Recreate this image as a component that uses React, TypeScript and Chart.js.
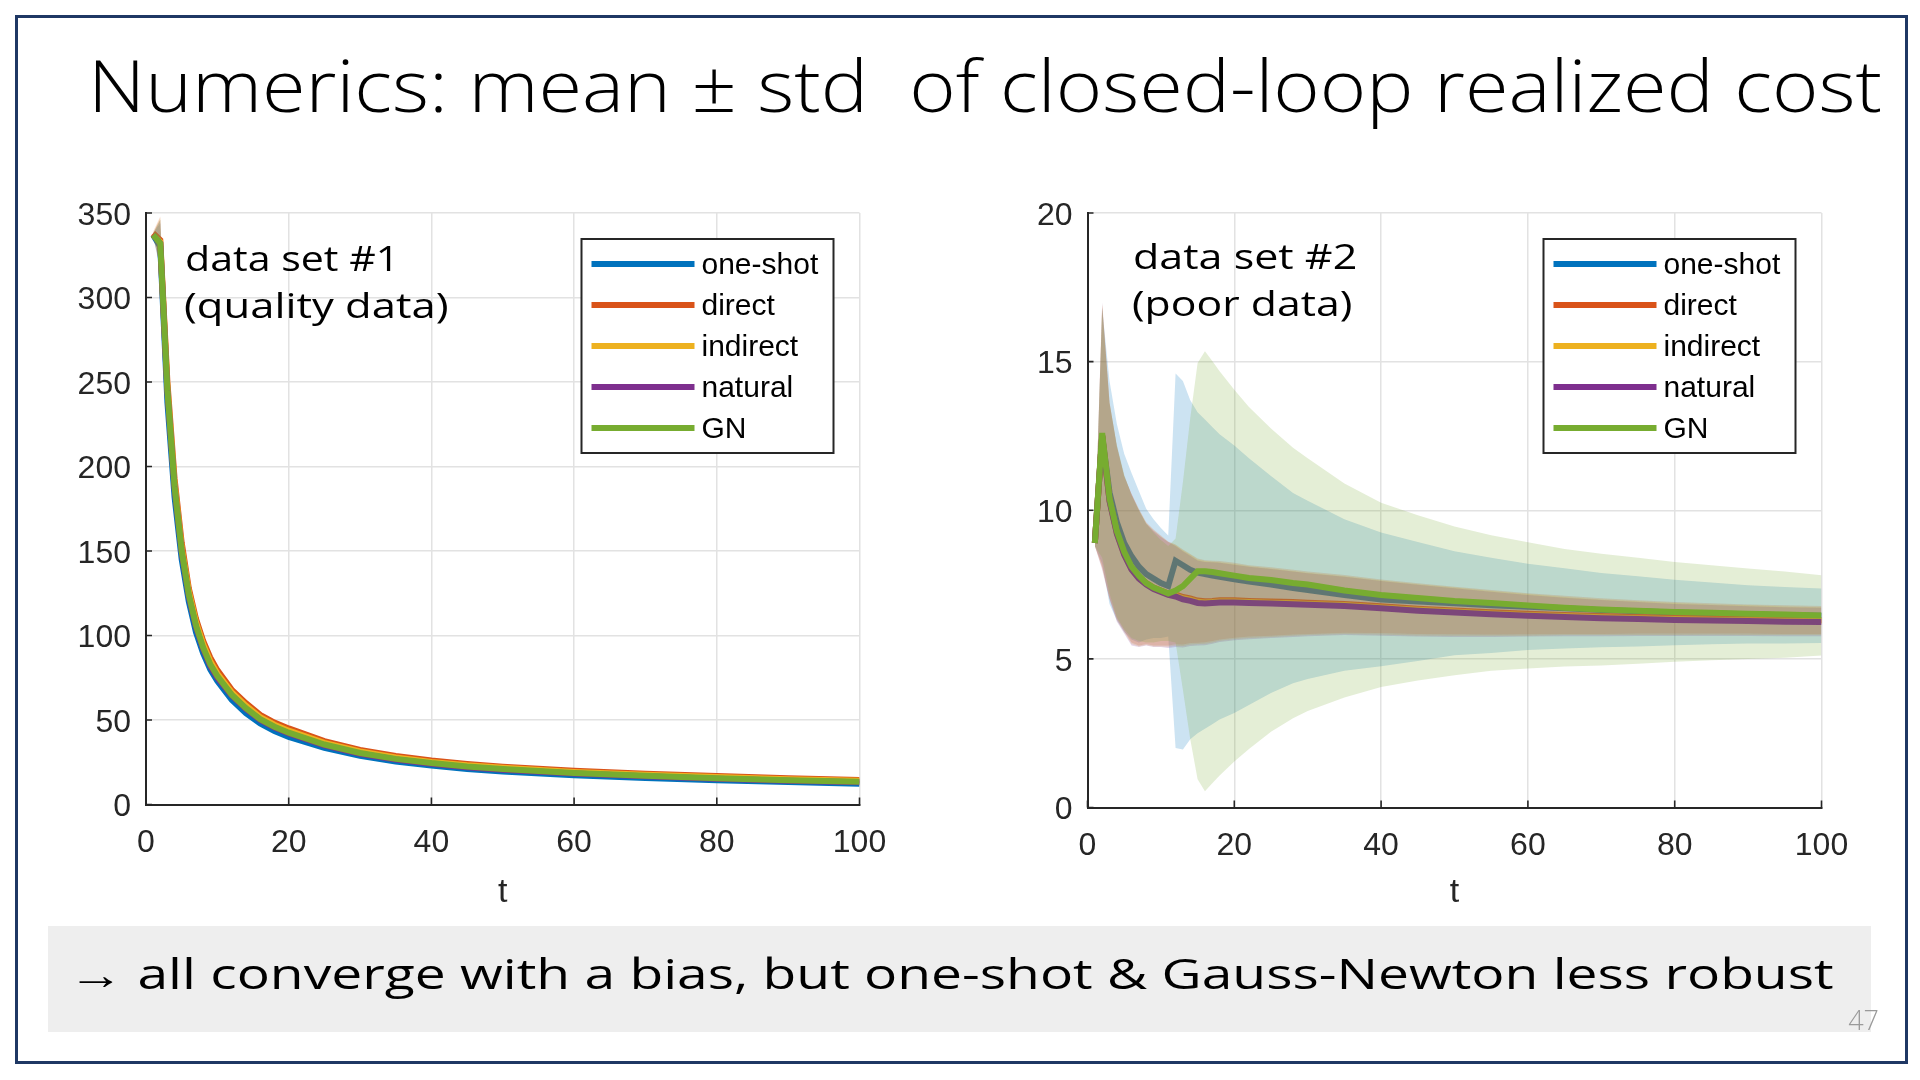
import React, { useEffect, useLayoutEffect, useRef, useState } from 'react';
import { Chart, registerables } from 'chart.js';

Chart.register(...registerables);

// ---------- data ----------
const SERIES_NAMES = ['one-shot', 'direct', 'indirect', 'natural', 'GN'];
const SERIES_COLORS = ['#0072BD', '#D95319', '#EDB120', '#7E2F8E', '#77AC30'];
const BAND_COLORS = [
  'rgba(0,114,189,0.2)',
  'rgba(217,83,25,0.2)',
  'rgba(237,177,32,0.2)',
  'rgba(126,47,142,0.2)',
  'rgba(119,172,48,0.2)',
];

const X_TICKS = [0, 20, 40, 60, 80, 100];
const Y_TICKS_LEFT = [0, 50, 100, 150, 200, 250, 300, 350];
const Y_TICKS_RIGHT = [0, 5, 10, 15, 20];

// data set #1 (quality data)
const T_LEFT = [1, 2, 3, 4, 5, 6, 7, 8, 9, 10, 12, 14, 16, 18, 20, 25, 30, 35, 40, 45, 50, 60, 70, 80, 90, 100];
const L_ONESHOT = [337, 330, 238, 182, 145, 120, 102, 89.5, 80, 73, 62, 54, 48, 43.5, 40, 33.5, 28.8, 25.5, 23, 21, 19.5, 17.3, 15.7, 14.4, 13.3, 12.3];
const L_DIRECT = [338, 334, 250, 193, 155, 128, 110, 97, 87, 79.5, 68, 60, 53, 48.5, 45, 37.5, 32.3, 28.7, 26, 24, 22.4, 20, 18.2, 16.8, 15.5, 14.5];
const L_INDIRECT = [337, 333, 247, 190, 152, 126, 108, 95, 85, 77.5, 66.5, 58.5, 51.7, 47.2, 43.7, 36.5, 31.4, 27.8, 25.2, 23.2, 21.7, 19.3, 17.6, 16.2, 15, 14];
const L_NATURAL = [337, 332, 244, 187, 149, 123, 105, 92, 82, 75, 64.5, 56.5, 50, 45.5, 42, 35, 30, 26.6, 24.1, 22.1, 20.6, 18.3, 16.7, 15.3, 14.1, 13.1];
const L_GN = [337, 332, 245, 188, 150, 124, 106, 93, 83, 76, 65, 57, 50.5, 46, 42.5, 35.5, 30.5, 27, 24.5, 22.5, 21, 18.7, 17, 15.6, 14.4, 13.4];
const L_STD = [1, 14, 4, 3, 2.5, 2, 1.8, 1.6, 1.5, 1.4, 1.3, 1.2, 1.1, 1, 1, 0.9, 0.8, 0.8, 0.7, 0.7, 0.6, 0.6, 0.5, 0.5, 0.5, 0.5];

// data set #2 (poor data)
const T_RIGHT = [1, 2, 3, 4, 5, 6, 7, 8, 9, 10, 11, 12, 13, 14, 15, 16, 17, 18, 20, 22, 25, 28, 30, 35, 40, 45, 50, 55, 60, 65, 70, 75, 80, 85, 90, 95, 100];
const R_ONESHOT = [8.9, 12.5, 10.6, 9.6, 8.9, 8.45, 8.1, 7.85, 7.7, 7.55, 7.45, 8.3, 8.15, 8.0, 7.9, 7.85, 7.8, 7.76, 7.68, 7.6, 7.5, 7.38, 7.32, 7.15, 7.0, 6.93, 6.87, 6.8, 6.75, 6.7, 6.64, 6.6, 6.56, 6.53, 6.5, 6.47, 6.45];
const R_DIRECT = [8.9, 12.5, 10.35, 9.25, 8.55, 8.05, 7.75, 7.55, 7.4, 7.3, 7.2, 7.17, 7.08, 7.03, 6.96, 6.94, 6.95, 6.97, 6.97, 6.95, 6.93, 6.91, 6.89, 6.85, 6.77, 6.69, 6.63, 6.57, 6.52, 6.48, 6.44, 6.41, 6.38, 6.36, 6.34, 6.32, 6.31];
const R_INDIRECT = [8.9, 12.5, 10.32, 9.22, 8.52, 8.02, 7.72, 7.52, 7.37, 7.27, 7.17, 7.13, 7.04, 6.99, 6.92, 6.9, 6.91, 6.93, 6.93, 6.91, 6.89, 6.87, 6.85, 6.81, 6.73, 6.65, 6.59, 6.53, 6.48, 6.44, 6.4, 6.37, 6.34, 6.32, 6.3, 6.28, 6.27];
const R_NATURAL = [8.9, 12.5, 10.3, 9.2, 8.5, 8.0, 7.7, 7.5, 7.35, 7.25, 7.15, 7.1, 7.0, 6.95, 6.88, 6.86, 6.88, 6.9, 6.9, 6.88, 6.86, 6.84, 6.82, 6.78, 6.7, 6.62, 6.56, 6.5, 6.45, 6.41, 6.37, 6.34, 6.31, 6.29, 6.27, 6.25, 6.24];
const R_GN = [8.9, 12.6, 10.4, 9.3, 8.6, 8.1, 7.8, 7.55, 7.4, 7.3, 7.2, 7.3, 7.45, 7.7, 7.95, 7.95, 7.92, 7.88, 7.8, 7.72, 7.65, 7.55, 7.5, 7.3, 7.15, 7.05, 6.95, 6.88, 6.8, 6.72, 6.66, 6.62, 6.58, 6.55, 6.52, 6.49, 6.46];

const R_STD_ONESHOT = [0.1, 4.3, 3.75, 3.3, 3.0, 2.8, 2.55, 2.2, 2.0, 1.85, 1.7, 6.3, 6.2, 5.7, 5.4, 5.2, 5.0, 4.8, 4.5, 4.15, 3.65, 3.2, 3.0, 2.55, 2.25, 2.0, 1.75, 1.6, 1.45, 1.35, 1.25, 1.18, 1.1, 1.04, 0.98, 0.95, 0.92];
const R_STD_DIRECT = [0.1, 4.4, 3.3, 2.9, 2.6, 2.5, 2.3, 2.05, 1.95, 1.85, 1.75, 1.68, 1.6, 1.5, 1.42, 1.38, 1.35, 1.32, 1.26, 1.2, 1.15, 1.09, 1.05, 0.97, 0.9, 0.85, 0.8, 0.75, 0.69, 0.64, 0.6, 0.56, 0.53, 0.51, 0.49, 0.48, 0.47];
const R_STD_INDIRECT = [0.1, 4.45, 3.3, 2.92, 2.62, 2.52, 2.3, 2.05, 1.95, 1.85, 1.76, 1.69, 1.61, 1.51, 1.42, 1.39, 1.36, 1.32, 1.26, 1.21, 1.15, 1.09, 1.05, 0.97, 0.91, 0.86, 0.81, 0.75, 0.7, 0.64, 0.6, 0.57, 0.54, 0.51, 0.5, 0.48, 0.47];
const R_STD_NATURAL = [0.1, 4.5, 3.3, 2.95, 2.65, 2.55, 2.3, 2.05, 1.95, 1.85, 1.78, 1.7, 1.62, 1.52, 1.43, 1.4, 1.37, 1.33, 1.27, 1.22, 1.16, 1.1, 1.06, 0.98, 0.92, 0.87, 0.82, 0.76, 0.7, 0.65, 0.61, 0.57, 0.54, 0.52, 0.5, 0.49, 0.48];
const R_STD_GN = [0.1, 4.2, 3.2, 2.9, 2.6, 2.4, 2.2, 2.0, 1.85, 1.7, 1.6, 1.75, 3.5, 5.4, 7.0, 7.4, 7.1, 6.8, 6.25, 5.75, 5.1, 4.55, 4.25, 3.6, 3.1, 2.78, 2.5, 2.28, 2.12, 1.98, 1.88, 1.78, 1.68, 1.6, 1.52, 1.45, 1.35];

// ---------- helpers ----------
const AXIS_FONT = '"Liberation Sans", Arial, Helvetica, sans-serif';
const SLIDE_FONT = '"Open Sans", "Noto Sans", sans-serif';
const AXIS_COLOR = '#262626';

function buildDatasets(T: number[], means: number[][], stds: number[][]) {
  const ds: any[] = [];
  means.forEach((m, i) => {
    const isGN = i === means.length - 1;
    const base = 100 - i * 10;
    const lineOrder = isGN ? base - 8 : base;
    const bandOrder = isGN ? base : base - 2;
    ds.push({
      label: SERIES_NAMES[i] + ' +std',
      data: T.map((t, k) => ({ x: t, y: m[k] + stds[i][k] })),
      borderColor: 'rgba(0,0,0,0)',
      borderWidth: 0,
      pointRadius: 0,
      fill: false,
      order: bandOrder + 1,
    });
    ds.push({
      label: SERIES_NAMES[i] + ' -std',
      data: T.map((t, k) => ({ x: t, y: m[k] - stds[i][k] })),
      borderColor: 'rgba(0,0,0,0)',
      borderWidth: 0,
      pointRadius: 0,
      fill: '-1',
      backgroundColor: BAND_COLORS[i],
      order: bandOrder,
    });
    ds.push({
      label: SERIES_NAMES[i],
      data: T.map((t, k) => ({ x: t, y: m[k] })),
      borderColor: SERIES_COLORS[i],
      backgroundColor: SERIES_COLORS[i],
      borderWidth: 6,
      pointRadius: 0,
      fill: false,
      tension: 0,
      order: lineOrder,
    });
  });
  return ds;
}

const innerTicksPlugin = {
  id: 'innerTicks',
  afterDraw(chart: any) {
    const { ctx, chartArea, scales } = chart;
    ctx.save();
    ctx.strokeStyle = AXIS_COLOR;
    ctx.lineWidth = 1.6;
    ctx.beginPath();
    scales.x.ticks.forEach((t: any) => {
      const px = scales.x.getPixelForValue(t.value);
      ctx.moveTo(px, chartArea.bottom);
      ctx.lineTo(px, chartArea.bottom - 7);
    });
    scales.y.ticks.forEach((t: any) => {
      const py = scales.y.getPixelForValue(t.value);
      ctx.moveTo(chartArea.left, py);
      ctx.lineTo(chartArea.left + 6, py);
    });
    ctx.stroke();
    ctx.restore();
  },
};

const boxLegendPlugin = {
  id: 'boxLegend',
  afterDraw(chart: any) {
    const { ctx, chartArea } = chart;
    const w = 252;
    const h = 214;
    const x0 = chartArea.right - 26 - w;
    const y0 = chartArea.top + 26;
    ctx.save();
    ctx.fillStyle = '#ffffff';
    ctx.fillRect(x0, y0, w, h);
    ctx.strokeStyle = AXIS_COLOR;
    ctx.lineWidth = 2;
    ctx.strokeRect(x0, y0, w, h);
    ctx.font = '30px ' + AXIS_FONT;
    ctx.textBaseline = 'middle';
    ctx.textAlign = 'left';
    SERIES_NAMES.forEach((name, i) => {
      const cy = y0 + 25 + 41 * i;
      ctx.strokeStyle = SERIES_COLORS[i];
      ctx.lineWidth = 6;
      ctx.beginPath();
      ctx.moveTo(x0 + 10, cy);
      ctx.lineTo(x0 + 113, cy);
      ctx.stroke();
      ctx.fillStyle = '#000000';
      ctx.fillText(name, x0 + 120, cy + 2);
    });
    ctx.restore();
  },
};

type Area = { left: number; top: number; right: number; bottom: number };

function CostChart(props: {
  left: number; top: number; width: number; height: number; area: Area;
  T: number[]; means: number[][]; stds: number[][]; yTicks: number[];
}) {
  const { left, top, width, height, area, T, means, stds, yTicks } = props;
  const ref = useRef<HTMLCanvasElement>(null);
  useEffect(() => {
    if (!ref.current) return;
    const yMax = yTicks[yTicks.length - 1];
    const yStep = yTicks[1] - yTicks[0];
    const chart = new Chart(ref.current, {
      type: 'line',
      data: { datasets: buildDatasets(T, means, stds) },
      options: {
        responsive: false,
        animation: false,
        devicePixelRatio: 1,
        events: [],
        layout: { padding: { top: area.top, right: width - area.right, left: 0, bottom: 0 } },
        plugins: {
          legend: { display: false },
          tooltip: { enabled: false },
          filler: { propagate: false, drawTime: 'beforeDatasetDraw' },
        },
        scales: {
          x: {
            type: 'linear',
            min: X_TICKS[0],
            max: X_TICKS[X_TICKS.length - 1],
            ticks: {
              stepSize: X_TICKS[1] - X_TICKS[0],
              font: { family: AXIS_FONT, size: 32 },
              color: AXIS_COLOR,
              padding: 19,
              maxRotation: 0,
              autoSkip: false,
            },
            grid: { color: '#e2e2e2', lineWidth: 1.5, drawTicks: false },
            border: { display: true, color: AXIS_COLOR, width: 2 },
            title: {
              display: true,
              text: 't',
              font: { family: AXIS_FONT, size: 34 },
              color: AXIS_COLOR,
              padding: { top: 0, bottom: 17 },
            },
            afterFit: (s: any) => { s.height = height - area.bottom; },
          },
          y: {
            type: 'linear',
            min: 0,
            max: yMax,
            ticks: {
              stepSize: yStep,
              font: { family: AXIS_FONT, size: 32 },
              color: AXIS_COLOR,
              padding: 15,
              labelOffset: 3,
            },
            grid: { color: '#e2e2e2', lineWidth: 1.5, drawTicks: false },
            border: { display: true, color: AXIS_COLOR, width: 2 },
            afterFit: (s: any) => { s.width = area.left; },
          },
        },
      } as any,
      plugins: [innerTicksPlugin, boxLegendPlugin],
    });
    return () => chart.destroy();
  }, []);
  return (
    <canvas
      ref={ref}
      width={width}
      height={height}
      style={{ position: 'absolute', left, top, width, height }}
    />
  );
}

// Text whose horizontal extent is stretched to the reference width
function FitText(props: { text: string; target: number; style: React.CSSProperties }) {
  const { text, target, style } = props;
  const ref = useRef<HTMLSpanElement>(null);
  const [k, setK] = useState(1);
  useLayoutEffect(() => {
    const el = ref.current;
    if (!el) return;
    const w = el.offsetWidth;
    if (w > 0) setK(target / w);
  }, [text, target]);
  return (
    <span
      ref={ref}
      style={{
        ...style,
        position: 'absolute',
        whiteSpace: 'pre',
        transform: `scaleX(${k})`,
        transformOrigin: '0 0',
      }}
    >
      {text}
    </span>
  );
}

export default function App() {
  return (
    <div style={{ position: 'fixed', left: 0, top: 0, width: 1920, height: 1080, background: '#ffffff', overflow: 'hidden' }}>
      <CostChart
        left={0} top={150} width={960} height={780}
        area={{ left: 146, top: 63, right: 859.5, bottom: 654.5 }}
        T={T_LEFT}
        means={[L_ONESHOT, L_DIRECT, L_INDIRECT, L_NATURAL, L_GN]}
        stds={[L_STD, L_STD, L_STD, L_STD, L_STD]}
        yTicks={Y_TICKS_LEFT}
      />
      <CostChart
        left={960} top={150} width={960} height={780}
        area={{ left: 127.5, top: 63, right: 861.5, bottom: 657.5 }}
        T={T_RIGHT}
        means={[R_ONESHOT, R_DIRECT, R_INDIRECT, R_NATURAL, R_GN]}
        stds={[R_STD_ONESHOT, R_STD_DIRECT, R_STD_INDIRECT, R_STD_NATURAL, R_STD_GN]}
        yTicks={Y_TICKS_RIGHT}
      />

      <FitText
        text="Numerics: mean ± std  of closed-loop realized cost"
        target={1794}
        style={{ left: 88, top: 35, fontFamily: SLIDE_FONT, fontWeight: 300, fontSize: 72, lineHeight: 'normal', color: '#000' }}
      />

      <FitText text="data set #1" target={214} style={{ left: 185, top: 235, fontFamily: SLIDE_FONT, fontSize: 34, lineHeight: 'normal', color: '#000' }} />
      <FitText text="(quality data)" target={264} style={{ left: 184, top: 282, fontFamily: SLIDE_FONT, fontSize: 34, lineHeight: 'normal', color: '#000' }} />
      <FitText text="data set #2" target={224} style={{ left: 1133, top: 233, fontFamily: SLIDE_FONT, fontSize: 34, lineHeight: 'normal', color: '#000' }} />
      <FitText text="(poor data)" target={220} style={{ left: 1132, top: 280, fontFamily: SLIDE_FONT, fontSize: 34, lineHeight: 'normal', color: '#000' }} />

      <div style={{ position: 'absolute', left: 48, top: 926, width: 1823, height: 106, background: '#eeeeee' }} />
      <FitText
        text="→ all converge with a bias, but one-shot & Gauss-Newton less robust"
        target={1766}
        style={{ left: 68, top: 944, fontFamily: SLIDE_FONT, fontWeight: 400, fontSize: 42, lineHeight: 'normal', color: '#000' }}
      />
      <div style={{ position: 'absolute', right: 1920 - 1879, top: 1001, fontFamily: SLIDE_FONT, fontWeight: 300, fontSize: 27, color: '#9a9a9a' }}>47</div>

      <div style={{ position: 'absolute', left: 15, top: 15, width: 1893, height: 1049, border: '3px solid #1F3864', boxSizing: 'border-box', pointerEvents: 'none' }} />
    </div>
  );
}
